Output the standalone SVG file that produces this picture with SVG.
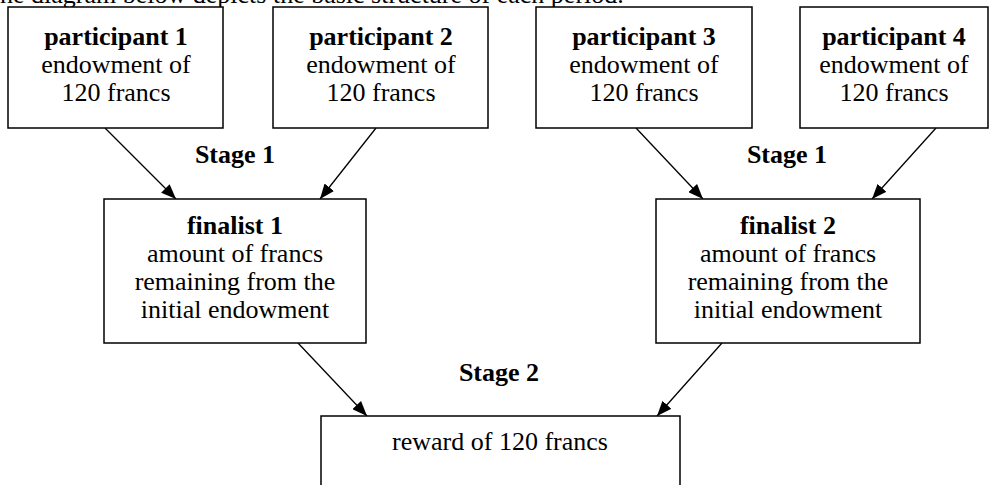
<svg xmlns="http://www.w3.org/2000/svg" width="1004" height="485" viewBox="0 0 1004 485">
<style>
.box{fill:#fff;stroke:#000;stroke-width:1.5}
text{font-family:'Liberation Serif', serif;font-size:26px;fill:#000}
.t{text-anchor:middle}
.b{font-weight:bold}
.c{stroke:#000;stroke-width:1.3;fill:none;marker-end:url(#ah)}
</style>
<defs>
<marker id="ah" markerUnits="userSpaceOnUse" markerWidth="16" markerHeight="12" refX="15" refY="6" orient="auto">
<path d="M0,0 L15,6 L0,12 Z" fill="#000"/>
</marker>
</defs>
<rect width="1004" height="485" fill="#fff"/>
<g font-family="Liberation Serif, serif" font-size="26">
<text x="0" y="2.5">he diagram below depicts the basic structure of each period.</text>
<g id="connectors">
<line class="c" x1="105" y1="128" x2="176" y2="199"/>
<line class="c" x1="376" y1="128" x2="320" y2="199"/>
<line class="c" x1="636" y1="128" x2="703" y2="199"/>
<line class="c" x1="936" y1="128" x2="872" y2="199"/>
<line class="c" x1="298" y1="343" x2="367" y2="416"/>
<line class="c" x1="722" y1="343" x2="657" y2="416"/>
</g>
<g id="p1">
<rect class="box" x="8" y="7" width="215" height="121"/>
<text class="t b" x="116" y="45">participant 1</text>
<text class="t" x="116" y="73">endowment of</text>
<text class="t" x="116" y="101">120 francs</text>
</g>
<g id="p2">
<rect class="box" x="273" y="7" width="215" height="121"/>
<text class="t b" x="381" y="45">participant 2</text>
<text class="t" x="381" y="73">endowment of</text>
<text class="t" x="381" y="101">120 francs</text>
</g>
<g id="p3">
<rect class="box" x="536" y="7" width="216" height="121"/>
<text class="t b" x="644" y="45">participant 3</text>
<text class="t" x="644" y="73">endowment of</text>
<text class="t" x="644" y="101">120 francs</text>
</g>
<g id="p4">
<rect class="box" x="800" y="7" width="188" height="121"/>
<text class="t b" x="894" y="45">participant 4</text>
<text class="t" x="894" y="73">endowment of</text>
<text class="t" x="894" y="101">120 francs</text>
</g>
<g id="stage1a"><text class="t b" x="235" y="163">Stage 1</text></g>
<g id="stage1b"><text class="t b" x="787" y="163">Stage 1</text></g>
<g id="f1">
<rect class="box" x="104" y="199" width="262" height="144"/>
<text class="t b" x="235" y="234">finalist 1</text>
<text class="t" x="235" y="262">amount of francs</text>
<text class="t" x="235" y="290">remaining from the</text>
<text class="t" x="235" y="318">initial endowment</text>
</g>
<g id="f2">
<rect class="box" x="656" y="199" width="264" height="144"/>
<text class="t b" x="788" y="234">finalist 2</text>
<text class="t" x="788" y="262">amount of francs</text>
<text class="t" x="788" y="290">remaining from the</text>
<text class="t" x="788" y="318">initial endowment</text>
</g>
<g id="stage2"><text class="t b" x="499" y="381">Stage 2</text></g>
<g id="reward">
<rect class="box" x="321" y="416" width="359" height="100"/>
<text class="t" x="500" y="450">reward of 120 francs</text>
</g>
</g>
</svg>
